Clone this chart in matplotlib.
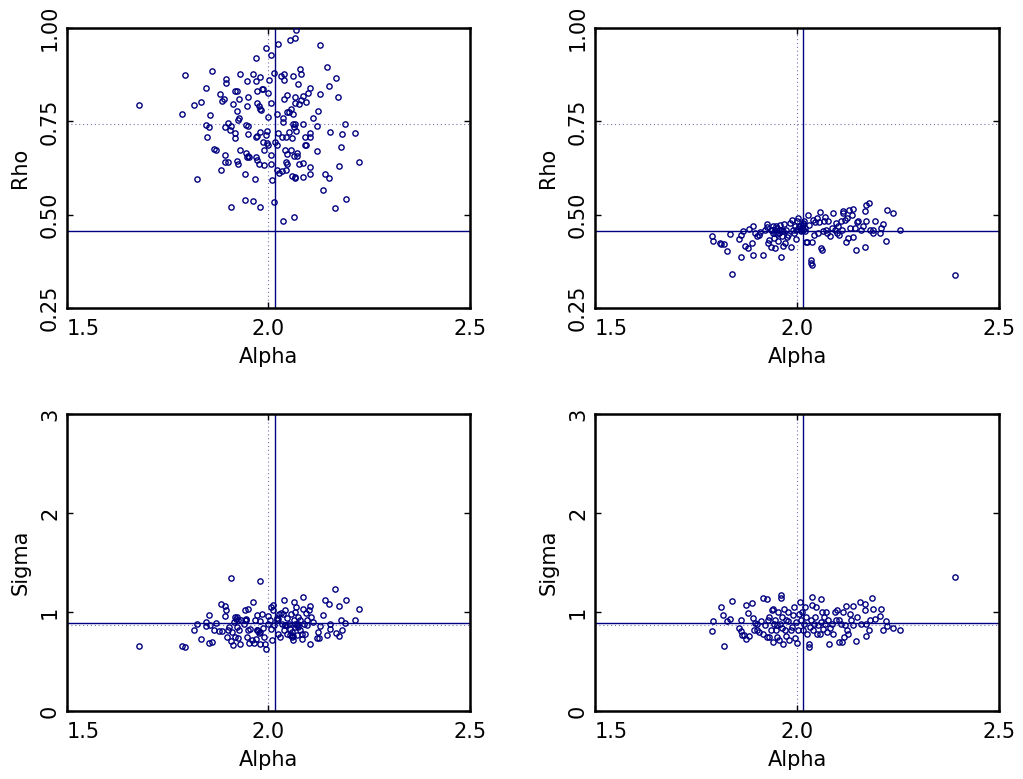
import numpy as np
import matplotlib
matplotlib.use('Agg')
import matplotlib.pyplot as plt

# estimates, run A (left column)
alpha_a_rho = [1.679, 1.794, 1.786, 1.823, 1.816, 1.833, 1.845, 1.861, 1.855, 1.846,
               1.852, 1.847, 1.866, 1.870, 1.882, 1.892, 1.893, 1.900, 1.880, 1.884,
               1.895, 1.895, 1.890, 1.893, 1.899, 1.907, 1.905, 1.918, 1.918, 1.906,
               1.913, 1.916, 1.923, 1.923, 1.927, 1.929, 1.925, 1.928, 1.930, 1.923,
               1.925, 1.942, 1.942, 1.946, 1.946, 1.944, 1.949, 1.949, 1.950, 1.944,
               1.949, 1.952, 1.947, 1.962, 1.962, 1.969, 1.968, 1.972, 1.971, 1.977,
               1.979, 1.982, 1.980, 1.984, 1.986, 1.968, 1.972, 1.967, 1.969, 1.972,
               1.976, 1.978, 1.980, 1.986, 1.988, 1.990, 1.994, 1.996, 1.995, 1.998,
               2.000, 2.002, 1.997, 2.000, 2.005, 2.006, 2.007, 2.006, 2.009, 2.014,
               2.014, 2.017, 2.020, 2.023, 2.021, 2.024, 2.020, 2.025, 2.031, 2.033,
               2.033, 2.037, 2.035, 2.036, 2.039, 2.039, 2.039, 2.043, 2.040, 2.043,
               2.045, 2.045, 2.044, 2.045, 2.047, 2.050, 2.054, 2.052, 2.056, 2.058,
               2.056, 2.060, 2.059, 2.061, 2.062, 2.063, 2.063, 2.065, 2.065, 2.066,
               2.064, 2.066, 2.067, 2.068, 2.067, 2.068, 2.072, 2.072, 2.073, 2.075,
               2.076, 2.078, 2.081, 2.081, 2.085, 2.086, 2.085, 2.086, 2.091, 2.091,
               2.093, 2.094, 2.097, 2.103, 2.102, 2.103, 2.103, 2.103, 2.110, 2.120,
               2.121, 2.123, 2.128, 2.128, 2.136, 2.140, 2.149, 2.146, 2.151, 2.153,
               2.165, 2.167, 2.173, 2.174, 2.181, 2.183, 2.190, 2.193, 2.214, 2.225]
rho_a = [0.793, 0.875, 0.770, 0.595, 0.795, 0.801, 0.839, 0.884, 0.766, 0.739,
         0.735, 0.708, 0.675, 0.672, 0.621, 0.659, 0.640, 0.640, 0.824, 0.804,
         0.864, 0.854, 0.810, 0.734, 0.746, 0.737, 0.726, 0.719, 0.705, 0.521,
         0.797, 0.832, 0.832, 0.779, 0.810, 0.877, 0.755, 0.759, 0.674, 0.643,
         0.637, 0.608, 0.539, 0.858, 0.791, 0.741, 0.737, 0.715, 0.816, 0.666,
         0.657, 0.654, 0.654, 0.877, 0.538, 0.919, 0.857, 0.832, 0.798, 0.790,
         0.784, 0.780, 0.870, 0.838, 0.838, 0.708, 0.710, 0.595, 0.655, 0.646,
         0.637, 0.521, 0.721, 0.694, 0.634, 0.674, 0.714, 0.724, 0.946, 0.825,
         0.763, 0.862, 0.691, 0.688, 0.661, 0.637, 0.929, 0.799, 0.593, 0.533,
         0.879, 0.696, 0.771, 0.718, 0.688, 0.956, 0.620, 0.613, 0.871, 0.709,
         0.616, 0.483, 0.749, 0.758, 0.877, 0.860, 0.811, 0.708, 0.673, 0.641,
         0.635, 0.662, 0.620, 0.821, 0.775, 0.722, 0.968, 0.775, 0.673, 0.604,
         0.782, 0.743, 0.706, 0.771, 0.871, 0.657, 0.493, 0.973, 0.816, 0.799,
         0.736, 0.602, 0.597, 0.995, 0.744, 0.723, 0.658, 0.666, 0.851, 0.796,
         0.636, 0.890, 0.876, 0.807, 0.818, 0.742, 0.600, 0.639, 0.708, 0.688,
         0.686, 0.801, 0.826, 0.839, 0.718, 0.707, 0.629, 0.610, 0.759, 0.670,
         0.737, 0.779, 0.954, 0.822, 0.566, 0.608, 0.598, 0.896, 0.846, 0.722,
         0.517, 0.865, 0.816, 0.630, 0.681, 0.717, 0.744, 0.543, 0.718, 0.640]

alpha_a_sig = [1.678, 1.786, 1.794, 1.816, 1.823, 1.833, 1.845, 1.846, 1.852, 1.853,
               1.855, 1.861, 1.865, 1.870, 1.877, 1.882, 1.884, 1.892, 1.893, 1.895,
               1.896, 1.899, 1.902, 1.906, 1.907, 1.909, 1.913, 1.915, 1.917, 1.918,
               1.923, 1.923, 1.925, 1.927, 1.929, 1.931, 1.938, 1.942, 1.944, 1.946,
               1.948, 1.950, 1.951, 1.954, 1.960, 1.962, 1.964, 1.967, 1.968, 1.971,
               1.972, 1.976, 1.978, 1.979, 1.980, 1.984, 1.987, 1.989, 1.992, 1.995,
               1.998, 2.000, 2.004, 2.005, 2.006, 2.008, 2.010, 2.012, 2.014, 2.020,
               2.023, 2.024, 2.028, 2.031, 2.034, 2.037, 2.038, 2.039, 2.040, 2.042,
               2.045, 2.047, 2.050, 2.053, 2.055, 2.058, 2.059, 2.062, 2.063, 2.064,
               2.066, 2.067, 2.068, 2.070, 2.073, 2.074, 2.077, 2.078, 2.082, 2.084,
               2.086, 2.086, 2.088, 2.090, 2.093, 2.095, 2.096, 2.101, 2.103, 2.103,
               2.105, 2.111, 2.120, 2.124, 2.128, 2.126, 2.136, 2.140, 2.146, 2.149,
               2.153, 2.153, 2.165, 2.168, 2.174, 2.174, 2.181, 2.183, 2.190, 2.193,
               2.214, 2.225, 1.919, 1.924, 1.942, 1.944, 1.971, 1.975, 1.979, 2.022,
               2.025, 2.040, 2.045, 2.053, 2.058, 2.062, 2.065, 2.070, 2.074]
sigma_a = [0.661, 0.654, 0.644, 0.822, 0.876, 0.731, 0.900, 0.856, 0.974, 0.688,
           0.866, 0.698, 0.822, 0.890, 0.809, 1.079, 0.809, 1.058, 0.957, 1.018,
           0.748, 0.816, 0.849, 1.345, 0.708, 0.799, 0.671, 0.903, 0.950, 0.748,
           0.950, 0.849, 0.735, 0.816, 0.681, 0.917, 0.883, 1.018, 0.917, 0.748,
           0.816, 1.035, 0.691, 0.832, 0.721, 1.099, 0.691, 0.917, 0.731, 0.967,
           0.816, 0.789, 1.311, 0.674, 0.907, 0.977, 0.843, 0.748, 0.681, 0.624,
           0.964, 0.883, 0.917, 0.826, 1.052, 0.721, 1.068, 1.018, 0.866, 0.917,
           0.782, 0.934, 0.748, 0.991, 0.883, 0.977, 1.126, 0.816, 1.018, 0.866,
           0.940, 0.782, 0.883, 0.832, 0.977, 0.748, 0.799, 0.715, 1.102, 0.917,
           1.001, 0.849, 1.052, 0.765, 0.883, 0.950, 0.816, 0.917, 0.731, 0.782,
           1.153, 1.035, 0.883, 0.782, 0.991, 0.866, 0.917, 1.018, 1.058, 0.681,
           0.950, 0.900, 0.738, 0.799, 0.856, 0.735, 0.971, 1.126, 0.772, 1.085,
           0.876, 0.832, 1.237, 0.789, 0.755, 1.058, 0.917, 0.816, 0.890, 1.119,
           0.923, 1.031, 0.927, 0.917, 0.923, 0.930, 0.816, 0.809, 0.802, 0.944,
           0.977, 0.866, 0.873, 0.772, 0.765, 0.755, 0.883, 0.866, 0.849]

# estimates, run B (right column)
alpha_b_rho = [2.391, 1.838, 1.790, 1.792, 1.809, 1.813, 1.819, 1.826, 1.834, 1.856,
               1.861, 1.861, 1.866, 1.872, 1.878, 1.881, 1.888, 1.890, 1.892, 1.897,
               1.900, 1.905, 1.908, 1.917, 1.921, 1.925, 1.926, 1.928, 1.932, 1.935,
               1.937, 1.940, 1.941, 1.943, 1.945, 1.946, 1.948, 1.950, 1.953, 1.955,
               1.958, 1.961, 1.963, 1.965, 1.966, 1.969, 1.971, 1.974, 1.976, 1.979,
               1.983, 1.984, 1.987, 1.989, 1.993, 1.995, 1.998, 1.999, 2.002, 2.003,
               2.006, 2.009, 2.012, 2.014, 2.016, 2.017, 2.020, 2.022, 2.024, 2.028,
               2.031, 2.034, 2.035, 2.037, 2.036, 2.039, 2.042, 2.045, 2.049, 2.053,
               2.055, 2.057, 2.059, 2.062, 2.064, 2.067, 2.069, 2.073, 2.075, 2.078,
               2.082, 2.086, 2.090, 2.093, 2.097, 2.100, 2.102, 2.105, 2.108, 2.111,
               2.113, 2.115, 2.119, 2.121, 2.123, 2.127, 2.130, 2.131, 2.135, 2.138,
               2.139, 2.144, 2.145, 2.148, 2.152, 2.158, 2.164, 2.168, 2.168, 2.170,
               2.172, 2.179, 2.182, 2.187, 2.187, 2.193, 2.205, 2.208, 2.214, 2.220,
               2.222, 2.237, 2.255, 1.950, 1.955, 1.960, 1.945, 1.935, 2.005, 2.010,
               2.015, 2.020, 1.998]
rho_b = [0.339, 0.342, 0.442, 0.430, 0.423, 0.422, 0.421, 0.403, 0.448, 0.435,
         0.446, 0.387, 0.455, 0.415, 0.412, 0.462, 0.423, 0.392, 0.469, 0.451,
         0.442, 0.446, 0.454, 0.392, 0.460, 0.467, 0.476, 0.424, 0.433, 0.413,
         0.460, 0.471, 0.451, 0.438, 0.411, 0.460, 0.469, 0.449, 0.429, 0.460,
         0.472, 0.387, 0.442, 0.415, 0.455, 0.476, 0.424, 0.460, 0.440, 0.446,
         0.478, 0.413, 0.487, 0.460, 0.451, 0.469, 0.435, 0.482, 0.491, 0.462,
         0.471, 0.455, 0.467, 0.478, 0.460, 0.482, 0.455, 0.426, 0.426, 0.500,
         0.473, 0.379, 0.371, 0.364, 0.426, 0.486, 0.446, 0.480, 0.491, 0.451,
         0.481, 0.508, 0.411, 0.406, 0.457, 0.484, 0.495, 0.460, 0.451, 0.482,
         0.444, 0.464, 0.504, 0.460, 0.478, 0.451, 0.469, 0.446, 0.482, 0.460,
         0.504, 0.509, 0.487, 0.427, 0.491, 0.437, 0.513, 0.464, 0.500, 0.515,
         0.440, 0.464, 0.406, 0.480, 0.484, 0.460, 0.469, 0.413, 0.509, 0.525,
         0.482, 0.531, 0.460, 0.451, 0.460, 0.484, 0.451, 0.464, 0.476, 0.429,
         0.513, 0.504, 0.458, 0.465, 0.452, 0.458, 0.452, 0.458, 0.468, 0.458,
         0.472, 0.465, 0.458]

alpha_b_sig = [2.391, 1.790, 1.792, 1.811, 1.816, 1.819, 1.826, 1.834, 1.838, 1.856,
               1.861, 1.862, 1.864, 1.869, 1.874, 1.875, 1.879, 1.882, 1.889, 1.890,
               1.894, 1.896, 1.900, 1.902, 1.907, 1.910, 1.915, 1.916, 1.921, 1.925,
               1.925, 1.928, 1.930, 1.931, 1.935, 1.937, 1.940, 1.941, 1.943, 1.946,
               1.948, 1.950, 1.951, 1.954, 1.956, 1.958, 1.960, 1.960, 1.962, 1.963,
               1.966, 1.968, 1.970, 1.973, 1.974, 1.977, 1.979, 1.981, 1.984, 1.987,
               1.991, 1.993, 1.995, 1.998, 2.001, 2.003, 2.006, 2.007, 2.010, 2.012,
               2.014, 2.017, 2.020, 2.022, 2.026, 2.029, 2.029, 2.032, 2.034, 2.036,
               2.037, 2.039, 2.042, 2.045, 2.048, 2.050, 2.053, 2.057, 2.059, 2.060,
               2.062, 2.064, 2.067, 2.069, 2.072, 2.075, 2.078, 2.080, 2.082, 2.086,
               2.090, 2.093, 2.097, 2.100, 2.103, 2.105, 2.108, 2.111, 2.115, 2.116,
               2.119, 2.121, 2.125, 2.127, 2.131, 2.134, 2.138, 2.139, 2.146, 2.148,
               2.156, 2.158, 2.168, 2.169, 2.171, 2.172, 2.179, 2.180, 2.185, 2.187,
               2.192, 2.205, 2.207, 2.214, 2.220, 2.222, 2.237, 2.255]
sigma_b = [1.355, 0.809, 0.907, 1.048, 0.967, 0.661, 0.907, 0.927, 1.116, 0.843,
           0.923, 0.809, 0.772, 0.765, 1.075, 0.731, 0.994, 0.755, 1.095, 0.940,
           0.816, 0.890, 0.822, 0.883, 0.799, 0.907, 0.782, 1.146, 0.873, 1.136,
           0.748, 0.917, 0.748, 0.950, 0.816, 1.018, 1.031, 0.698, 0.883, 0.917,
           0.816, 0.748, 0.866, 1.001, 0.715, 0.883, 1.176, 1.143, 0.950, 0.843,
           0.681, 1.035, 0.816, 0.917, 0.755, 1.001, 0.907, 0.715, 0.816, 0.849,
           0.967, 1.052, 0.741, 0.903, 0.688, 0.816, 0.984, 1.105, 0.917, 1.001,
           0.816, 0.883, 1.052, 0.950, 0.782, 0.674, 0.647, 0.849, 0.917, 1.068,
           1.153, 0.816, 0.883, 0.950, 1.052, 0.782, 0.866, 0.782, 1.136, 0.900,
           1.001, 0.832, 0.950, 0.883, 1.001, 0.799, 0.917, 0.674, 0.843, 0.883,
           0.782, 1.001, 0.917, 1.018, 0.698, 0.917, 0.883, 0.698, 1.001, 0.748,
           0.866, 1.058, 0.816, 0.782, 0.984, 0.917, 1.058, 0.866, 0.708, 0.950,
           1.102, 0.883, 1.085, 1.018, 0.755, 0.883, 0.816, 0.917, 1.146, 1.028,
           0.934, 0.964, 1.028, 0.816, 0.910, 0.856, 0.843, 0.816]

# reference lines
alpha_true = 2.016
alpha_mean = 2.0
rho_true = 0.455
rho_mean = 0.742
sigma_true = 0.892
sigma_mean = 0.868

navy = '#000080'
fs = 15

fig = plt.figure(figsize=(10.23, 7.79), dpi=100, facecolor='w')

panels = [
    ([0.0655, 0.6046, 0.3939, 0.3594], alpha_a_rho, rho_a, 'Rho'),
    ([0.5816, 0.6046, 0.3949, 0.3594], alpha_b_rho, rho_b, 'Rho'),
    ([0.0655, 0.0873, 0.3939, 0.3812], alpha_a_sig, sigma_a, 'Sigma'),
    ([0.5816, 0.0873, 0.3949, 0.3812], alpha_b_sig, sigma_b, 'Sigma'),
]

for rect, xs, ys, name in panels:
    ax = fig.add_axes(rect)
    ax.plot(xs, ys, 'o', ms=3.8, mfc='none', mec=navy, mew=1.0, zorder=3)
    ax.axvline(alpha_true, color=navy, lw=1.0)
    ax.axvline(alpha_mean, color=navy, lw=0.8, ls=(0, (1, 2.5)), alpha=0.55)
    if name == 'Rho':
        ax.axhline(rho_true, color=navy, lw=1.0)
        ax.axhline(rho_mean, color=navy, lw=0.8, ls=(0, (1, 2.5)), alpha=0.55)
        ax.set_ylim(0.25, 1.0)
        ax.set_yticks([0.25, 0.5, 0.75, 1.0])
        ax.set_yticklabels(['0.25', '0.50', '0.75', '1.00'])
    else:
        ax.axhline(sigma_true, color=navy, lw=1.0)
        ax.axhline(sigma_mean, color=navy, lw=0.8, ls=(0, (1, 2.5)), alpha=0.55)
        ax.set_ylim(0, 3)
        ax.set_yticks([0, 1, 2, 3])
        ax.set_yticklabels(['0', '1', '2', '3'])
    ax.set_xlim(1.5, 2.5)
    ax.set_xticks([1.5, 2.0, 2.5])
    ax.set_xticklabels(['1.5', '2.0', '2.5'])
    ax.xaxis.get_ticklabels()[0].set_horizontalalignment('left')
    ax.tick_params(direction='in', length=4, width=1, top=True, right=True,
                   labelsize=fs)
    ax.tick_params(axis='x', pad=8)
    ax.tick_params(axis='y', pad=5)
    for lab in ax.get_yticklabels():
        lab.set_rotation(90)
        lab.set_verticalalignment('center')
    for sp in ax.spines.values():
        sp.set_linewidth(1.8)
    ax.set_xlabel('Alpha', fontsize=fs, labelpad=6)
    ax.set_ylabel(name, fontsize=fs, labelpad=7)

plt.savefig('out.png', dpi=100)
